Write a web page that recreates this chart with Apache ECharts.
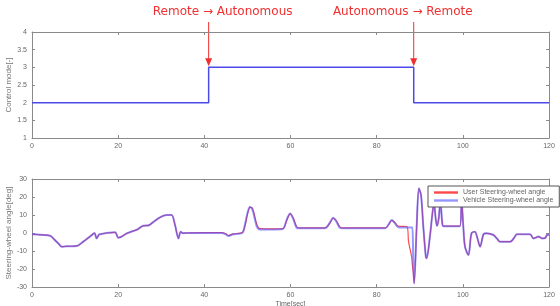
<!DOCTYPE html>
<html>
<head>
<meta charset="utf-8">
<script src="https://cdn.jsdelivr.net/npm/echarts@6/dist/echarts.min.js"></script>
<style>html,body{margin:0;padding:0;background:#fff}#c{width:560px;height:306px}</style>
</head>
<body>
<div id="c"></div>
<script>
// ---- data ----
const modeTime = [0, 41, 41, 88.6, 88.6, 120];
const modeValue = [2, 2, 3, 3, 2, 2];
const modeTransitions = [41, 88.6];
const transitionLabels = ['Remote \u2192 Autonomous', 'Autonomous \u2192 Remote'];

const steerTime = [0,2,4.2,5.3,6.2,6.9,8,10.4,11.9,13,13.9,14.5,15.0,15.5,15.8,17.3,19.3,20.0,20.8,22,23.5,24.5,25.8,27,28,29.3,30.5,31.3,32.4,33.2,34.0,34.5,35,35.9,40,44,45,45.6,46.7,48.8,49.4,50.0,50.6,51.2,52.2,52.9,56,58.2,59.2,59.9,60.6,61.4,62,68,69.2,69.9,70.6,71.4,72,82,82.8,83.5,84.2,85,87,87.4,88.1,88.3,88.5,88.7,89.3,89.8,90.3,90.8,91.4,91.6,92.4,92.9,93.3,93.7,94.0,94.4,94.8,95.2,95.5,99.3,99.7,100.1,100.5,101.3,102,102.8,103.4,104,104.8,105.5,107.1,107.9,108.6,111,112.1,112.5,115.6,116.4,117.6,118.4,119.2,119.5,120];
const vehicleSteer = [-0.7,-1.0,-1.5,-3.9,-6,-7.6,-7.4,-7.2,-4.8,-2.8,-1.1,0,-3.0,-1.0,-0.7,0,0.4,-2.6,-2,-0.2,1.1,2,4,4.2,5.8,8.1,9.6,10,10,4.4,-3,0.7,-0.1,0,0,0,-0.8,-1.7,-0.7,0,4.4,11,14.6,12.8,3.5,2,2,2.2,8,10.9,8,3,2.6,2.6,6,8.5,6.5,3,2.6,2.6,5,7.2,5.5,3.2,3,3,3,3,-16,-28,4.4,24.8,21,4.4,-13,-14,-1.1,10,17,8,4,8,18,6,3.8,3.8,18,4,-7.6,-12.2,-0.2,0.7,-3,-7.6,-0.7,-0.2,-1.1,-3,-4.8,-4.8,-2,-0.7,-0.7,-3,-2,-3,-2.6,-1.1,-1];
const userSteer = [-0.7,-1.0,-1.5,-3.9,-6,-7.6,-7.4,-7.2,-4.8,-2.8,-1.1,0,-3.0,-1.0,-0.7,0,0.4,-2.6,-2,-0.2,1.1,2,4,4.2,5.8,8.1,9.6,10,10,4.4,-3,0.7,-0.1,0,0.2,0.2,-0.4,-1.4,-0.5,0.3,3.6,10.2,14.2,13.6,4.6,2.4,2.3,2.4,7.4,10.6,8.6,3.6,2.9,2.9,5.6,8.3,7.0,3.6,2.9,2.9,4.6,7.0,6.0,3.8,3.6,-4.8,-13,-18,-22,-28,4.4,24.8,21,4.4,-13,-14,-1.1,10,17,8,4,8,18,6,3.8,3.8,18,4,-7.6,-12.2,-0.2,0.7,-3,-7.6,-0.7,-0.2,-1.1,-3,-4.8,-4.8,-2,-0.7,-0.7,-3,-2,-3,-2.6,-1.1,-1];

const xTicks = {min: 0, max: 120, interval: 20};
const modeTicks = {min: 1, max: 4, interval: 0.5};
const steerTicks = {min: -30, max: 30, interval: 10};

// ---- chart ----
const zip = (a, b) => a.map((t, i) => [t, b[i]]);
const axisColor = '#8a8a8a';
const labelStyle = {fontSize: 7, color: '#666', fontFamily: 'Liberation Sans'};
function xAx(grid, pos, withLabels, name) {
  return Object.assign({
    type: 'value', gridIndex: grid, position: pos, min: xTicks.min, max: xTicks.max, interval: xTicks.interval,
    axisLine: {show: true, onZero: false, lineStyle: {color: axisColor, width: 1}},
    axisTick: {show: true, inside: true, length: 3, lineStyle: {color: axisColor}},
    axisLabel: withLabels ? Object.assign({margin: 5}, labelStyle) : {show: false},
    splitLine: {show: false}
  }, name ? {name: name, nameLocation: 'middle', nameGap: 14, nameMoveOverlap: false, nameTextStyle: {fontSize: 7, color: '#666', fontFamily: 'Liberation Sans'}} : {});
}
function yAx(grid, pos, ticks, withLabels, name) {
  return Object.assign({
    type: 'value', gridIndex: grid, position: pos, min: ticks.min, max: ticks.max, interval: ticks.interval,
    axisLine: {show: true, onZero: false, lineStyle: {color: axisColor, width: 1}},
    axisTick: {show: true, inside: true, length: 3, lineStyle: {color: axisColor}},
    axisLabel: withLabels ? Object.assign({margin: 5}, labelStyle) : {show: false},
    splitLine: {show: false}
  }, name ? {name: name, nameLocation: 'middle', nameGap: 19, nameMoveOverlap: false, nameTextStyle: {fontSize: 8, color: '#777', fontFamily: 'Liberation Sans'}} : {});
}

const chart = echarts.init(document.getElementById('c'), null, {renderer: 'canvas'});
chart.setOption({
  animation: false,
  backgroundColor: '#fff',
  grid: [
    {left: 32, right: 11, top: 32, height: 106, containLabel: false, outerBoundsMode: 'none'},
    {left: 32, right: 11, top: 179, height: 108, containLabel: false, outerBoundsMode: 'none'}
  ],
  xAxis: [xAx(0, 'bottom', true), xAx(0, 'top', false), xAx(1, 'bottom', true, 'Time[sec]'), xAx(1, 'top', false)],
  yAxis: [yAx(0, 'left', modeTicks, true, 'Control mode[-]'), yAx(0, 'right', modeTicks, false),
          yAx(1, 'left', steerTicks, true, 'Steering-wheel angle[deg]'), yAx(1, 'right', steerTicks, false)],
  legend: {
    data: ['User Steering-wheel angle', 'Vehicle Steering-wheel angle'],
    left: 428, top: 186, orient: 'vertical', itemGap: 1, itemWidth: 24, itemHeight: 7,
    backgroundColor: '#fff', borderColor: '#555', borderWidth: 1, borderRadius: 0, padding: [3, 6, 3, 6],
    textStyle: {fontSize: 7, color: '#666', fontFamily: 'Liberation Sans'},
    icon: 'path://M0,0 L10,0 L10,1 L0,1 Z'
  },
  series: [
    {type: 'line', name: 'Control mode', xAxisIndex: 0, yAxisIndex: 0, data: zip(modeTime, modeValue),
     showSymbol: false, lineStyle: {color: '#4a4ae8', width: 1.5}},
    {type: 'line', name: 'User Steering-wheel angle', xAxisIndex: 2, yAxisIndex: 2, data: zip(steerTime, userSteer),
     showSymbol: false, smooth: 0.3, color: '#ff4a4a', lineStyle: {color: '#ff4a4a', width: 1.2}},
    {type: 'line', name: 'Vehicle Steering-wheel angle', xAxisIndex: 2, yAxisIndex: 2, data: zip(steerTime, vehicleSteer),
     showSymbol: false, smooth: 0.3, color: 'rgba(80,80,255,0.6)', lineStyle: {color: 'rgba(80,80,255,0.6)', width: 2}}
  ]
});

// annotations placed through the axis scales
const g = [];
modeTransitions.forEach((t, i) => {
  const top = chart.convertToPixel({xAxisIndex: 0, yAxisIndex: 0}, [t, modeTicks.max]);
  const lvl = chart.convertToPixel({xAxisIndex: 0, yAxisIndex: 0}, [t, 3]);
  const x = top[0];
  g.push({type: 'line', shape: {x1: x, y1: top[1] - 10, x2: x, y2: lvl[1] - 8}, style: {stroke: '#f03030', lineWidth: 1}});
  g.push({type: 'polygon', shape: {points: [[x - 3.5, lvl[1] - 9], [x + 3.5, lvl[1] - 9], [x, lvl[1] - 1]]}, style: {fill: '#f03030'}});
  g.push({type: 'text', x: x + (i === 0 ? 14 : -11), y: top[1] - 20,
    style: {text: transitionLabels[i], fill: '#f03030', font: '12px "DejaVu Sans"', align: 'center', verticalAlign: 'middle'}});
});
chart.setOption({graphic: g});
</script>
</body>
</html>
